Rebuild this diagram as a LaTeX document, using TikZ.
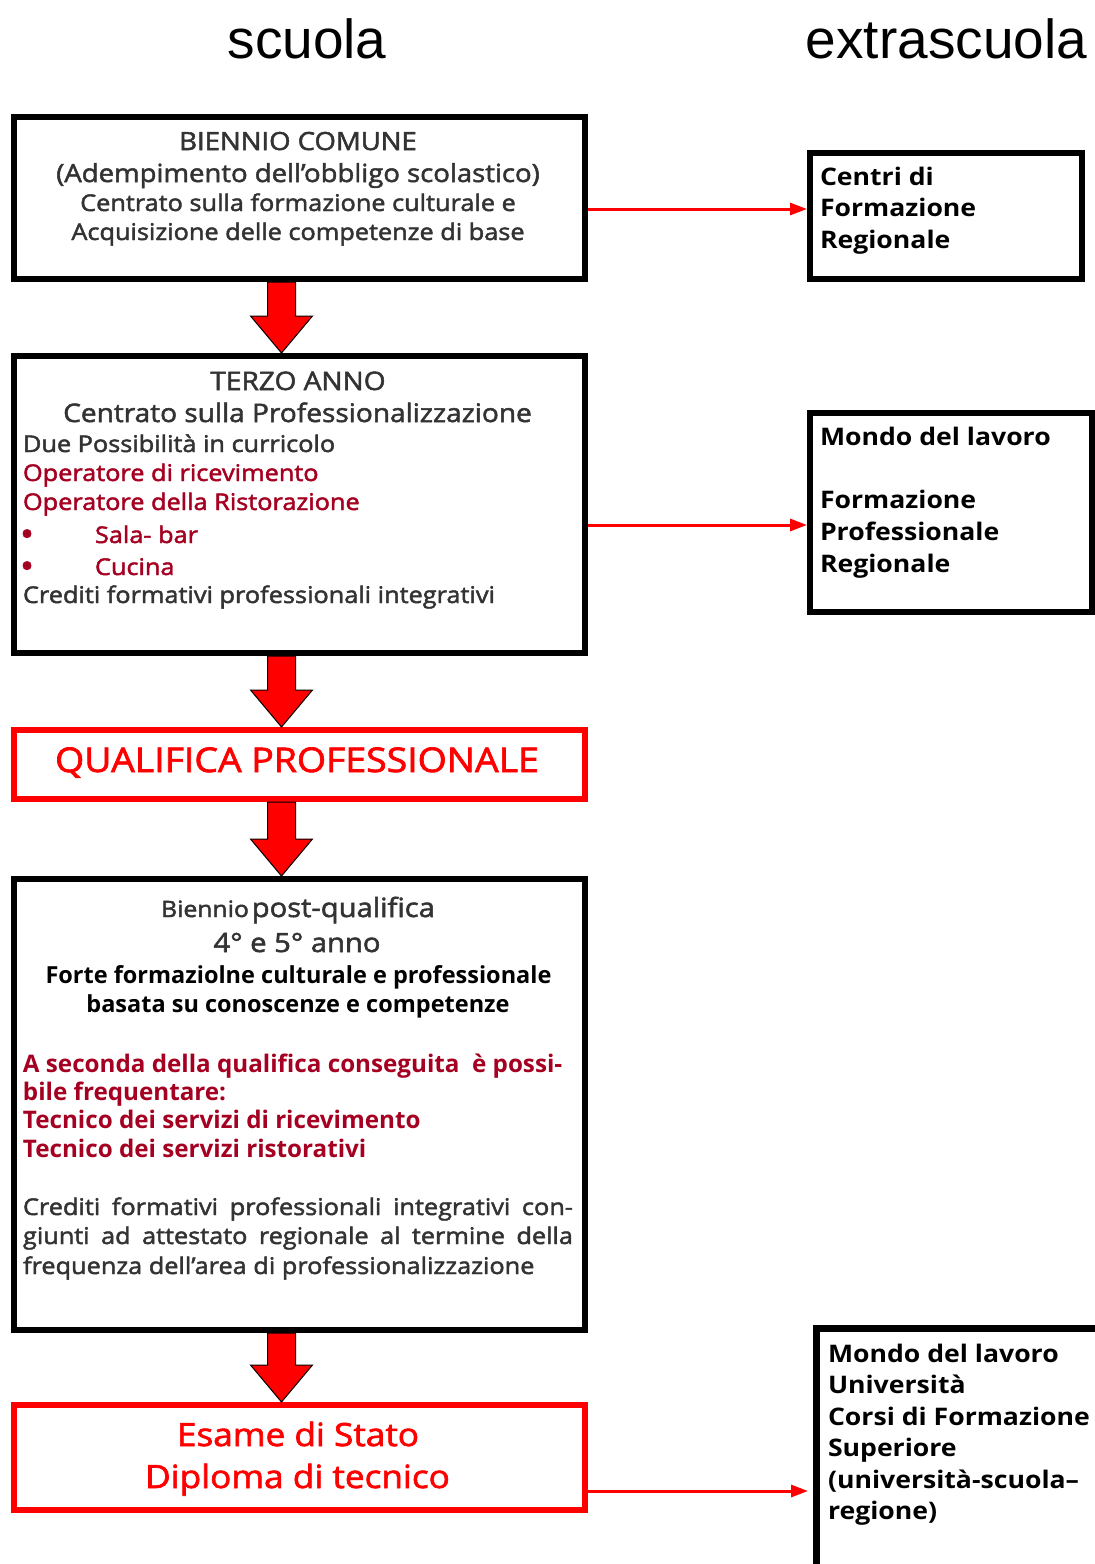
\documentclass[tikz,border=0pt]{standalone}
\usepackage{fontspec}
\setmainfont{Open Sans}[FakeStretch=1.1, FakeBold=2]
\newfontfamily\plainos{Open Sans}
\newfontfamily\boldwide{Open Sans}[FakeStretch=1.1]
\newfontfamily\titlefont{Liberation Sans}
\usetikzlibrary{arrows.meta,calc}
\definecolor{tgrey}{HTML}{333333}
\definecolor{dred}{HTML}{A50021}
\definecolor{pred}{HTML}{FF0000}
\newcommand\fsz[1]{\fontsize{#1}{#1}\selectfont}
\newcommand\blockdown[2]{%
  \path[blockarr] let \p1=($(#1.south)+(-18pt,0pt)$), \p2=(#2.north) in
   (\x1-14pt,\y1) -- (\x1+14pt,\y1) -- (\x1+14pt,\y2+37pt) -- (\x1+31pt,\y2+37pt)
   -- (\x1,\y2) -- (\x1-31pt,\y2+37pt) -- (\x1-14pt,\y2+37pt) -- cycle;}
\tikzset{
  box/.style={draw=black, line width=6pt, fill=white, inner sep=0pt},
  bigbox/.style={draw=black, line width=7pt, fill=white, inner sep=0pt},
  redbox/.style={draw=pred, line width=6pt, fill=white, inner sep=0pt},
  txt/.style={inner sep=0pt, outer sep=0pt},
  ctr/.style={txt, anchor=base},
  lft/.style={txt, anchor=base west},
  greyt/.style={text=tgrey},
  redt/.style={text=dred},
  blackb/.style={text=black, font=\boldwide\fsz{24.2}\bfseries},
  link/.style={draw=pred, line width=3pt, -{Triangle[length=17pt,width=12pt]}},
  blockarr/.style={fill=pred, draw=black, line width=1pt, line join=miter},
  title/.style={txt, anchor=base, font=\titlefont\fsz{55}},
}
\begin{document}
\begin{tikzpicture}[x=1pt,y=-1pt]
\useasboundingbox (0,0) rectangle (1095,1564);
\clip (0,0) rectangle (1095,1564);

% titles
\node[title] (ts) at (307,58) {scuola};
\node[title] (te) at (946.5,58) {extrascuola};

% boxes
\node[box, minimum width=571pt, minimum height=162pt] (b1) at (299.5,198) {};
\node[box, minimum width=272pt, minimum height=126pt] (c1) at (946,215.5) {};
\node[box, minimum width=571pt, minimum height=297pt] (b2) at (299.5,504.5) {};
\node[box, minimum width=282pt, minimum height=199pt] (c2) at (951,512.5) {};
\node[redbox, minimum width=571pt, minimum height=69pt] (q) at (299.5,764.5) {};
\node[box, minimum width=571pt, minimum height=451pt] (b4) at (299.5,1104.5) {};
\node[redbox, minimum width=571pt, minimum height=105pt] (e) at (299.5,1457.5) {};
\node[bigbox, minimum width=300pt, minimum height=268pt] (c3) at (966.5,1462.5) {};

% block arrows
\blockdown{b1}{b2}
\blockdown{b2}{q}
\blockdown{q}{b4}
\blockdown{b4}{e}

% side arrows
\coordinate (a1) at (0,209);
\coordinate (a2) at (0,525);
\coordinate (a3) at (0,1491);
\draw[link] (b1.east |- a1) -- (c1.west |- a1);
\draw[link] (b2.east |- a2) -- (c2.west |- a2);
\draw[link, shorten >=5pt] (e.east |- a3) -- (c3.west |- a3);

% box 1 text
\node[ctr, greyt, font=\fsz{25}] (t11) at (298,150) {BIENNIO COMUNE};
\node[ctr, greyt, font=\fsz{25}] (t12) at (298,182) {(Adempimento dell’obbligo scolastico)};
\node[ctr, greyt, font=\fsz{23}] (t13) at (298,211) {Centrato sulla formazione culturale e};
\node[ctr, greyt, font=\fsz{23}] (t14) at (298,240) {Acquisizione delle competenze di base};

% c1 text
\node[lft, blackb] (u11) at (820,185) {Centri di};
\node[lft, blackb] (u12) at (820,216.5) {Formazione};
\node[lft, blackb] (u13) at (820,248) {Regionale};

% box 2 text
\node[ctr, greyt, font=\fsz{25.5}] (t21) at (298,390) {TERZO ANNO};
\node[ctr, greyt, font=\fsz{25.5}] (t22) at (297.5,422) {Centrato sulla Professionalizzazione};
\node[lft, greyt, font=\fsz{23}] (t23) at (23,452) {Due Possibilità in curricolo};
\node[lft, redt, font=\fsz{23}] (t24) at (23,481) {Operatore di ricevimento};
\node[lft, redt, font=\fsz{23}] (t25) at (23,510) {Operatore della Ristorazione};
\node[lft, redt, font=\fsz{34}] (t26b) at (20,546) {•};
\node[lft, redt, font=\fsz{23}] (t26) at (95,543) {Sala- bar};
\node[lft, redt, font=\fsz{34}] (t27b) at (20,578) {•};
\node[lft, redt, font=\fsz{23}] (t27) at (95,575) {Cucina};
\node[lft, greyt, font=\fsz{23}] (t28) at (23,603) {Crediti formativi professionali integrativi};

% c2 text
\node[lft, blackb] (u21) at (820,445) {Mondo del lavoro};
\node[lft, blackb] (u22) at (820,508) {Formazione};
\node[lft, blackb] (u23) at (820,540) {Professionale};
\node[lft, blackb] (u24) at (820,572) {Regionale};

% qualifica
\node[ctr, text=pred, font=\fsz{34}] (tq) at (297,772) {QUALIFICA PROFESSIONALE};

% box 4 text
\node[ctr, greyt] (t41) at (298,917) {{\fsz{22.5}Biennio} {\fsz{26.5}post-qualifica}};
\node[ctr, greyt, font=\fsz{26.5}] (t42) at (297,952) {4° e 5° anno};
\node[ctr, text=black, font=\plainos\fsz{23.5}\bfseries] (t43) at (298.5,983) {Forte formaziolne culturale e professionale};
\node[ctr, text=black, font=\plainos\fsz{23.5}\bfseries] (t44) at (298,1012) {basata su conoscenze e competenze};
\node[lft, redt, font=\plainos\fsz{24.2}\bfseries] (t45) at (23,1072) {A seconda della qualifica conseguita \ è possi-};
\node[lft, redt, font=\plainos\fsz{24.2}\bfseries] (t46) at (23,1100) {bile frequentare:};
\node[lft, redt, font=\plainos\fsz{24.2}\bfseries] (t47) at (23,1128) {Tecnico dei servizi di ricevimento};
\node[lft, redt, font=\plainos\fsz{24.2}\bfseries] (t48) at (23,1157) {Tecnico dei servizi ristorativi};
\node[lft, greyt, font=\fsz{23}] (t49) at (23,1215) {\makebox[550pt][s]{Crediti formativi professionali integrativi con-}};
\node[lft, greyt, font=\fsz{23}] (t410) at (23,1244) {\makebox[550pt][s]{giunti ad attestato regionale al termine della}};
\node[lft, greyt, font=\fsz{23}] (t411) at (23,1274) {frequenza dell’area di professionalizzazione};

% esame
\node[ctr, text=pred, font=\fsz{32}] (te1) at (298,1446) {Esame di Stato};
\node[ctr, text=pred, font=\fsz{32}] (te2) at (297.5,1488) {Diploma di tecnico};

% c3 text
\node[lft, blackb] (u31) at (828,1362) {Mondo del lavoro};
\node[lft, blackb] (u32) at (828,1393.5) {Università};
\node[lft, blackb] (u33) at (828,1425) {Corsi di Formazione};
\node[lft, blackb] (u34) at (828,1456.5) {Superiore};
\node[lft, blackb] (u35) at (828,1488) {(università-scuola–};
\node[lft, blackb] (u36) at (828,1519.5) {regione)};
\end{tikzpicture}
\end{document}
